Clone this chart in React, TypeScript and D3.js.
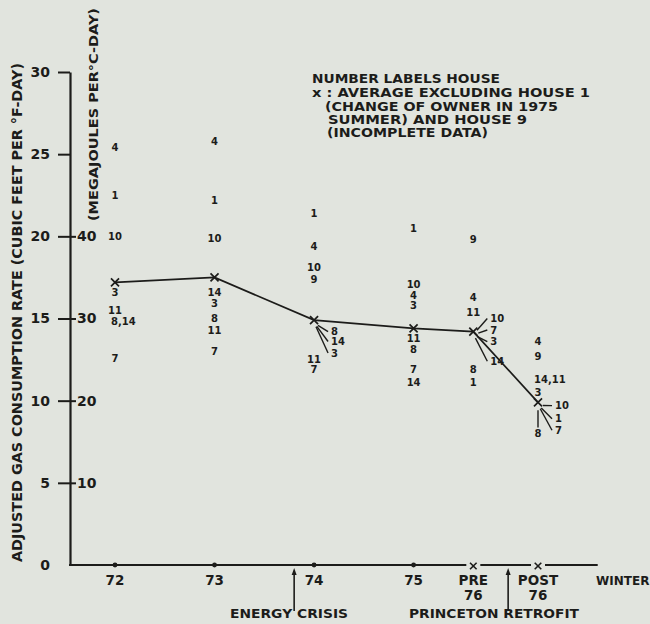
import React, { useEffect, useRef } from "react";
import * as d3 from "d3";

const W = 650;
const H = 624;
const FONT = "'DejaVu Sans', sans-serif";
const INK = "#1c1c1a";
const PAPER = "#e1e4de";

// winters on the horizontal axis (in year units)
const seasonNames = ["72", "73", "74", "75", "PRE 76", "POST 76"];
const seasonYears = [72, 73, 74, 75, 75.6, 76.25];

// x : average excluding house 1 and house 9 (cubic feet per °F-day)
const averages = [17.2, 17.5, 14.9, 14.4, 14.2, 9.9];

// house number labels, [house, rate] for each winter
const houses72 = [["4", 25.4], ["1", 22.5], ["10", 20.0], ["3", 16.6], ["11", 15.5], ["8,14", 14.8], ["7", 12.6]];
const houses73 = [["4", 25.8], ["1", 22.2], ["10", 19.9], ["14", 16.6], ["3", 15.9], ["8", 15.0], ["11", 14.3], ["7", 13.0]];
const houses74 = [["1", 21.4], ["4", 19.4], ["10", 18.1], ["9", 17.4], ["11", 12.5], ["7", 11.9]];
const houses75 = [["1", 20.5], ["10", 17.1], ["4", 16.4], ["3", 15.8], ["11", 13.8], ["8", 13.1], ["7", 11.9], ["14", 11.1]];
const housesPre76 = [["9", 19.8], ["4", 16.3], ["11", 15.4], ["8", 11.9], ["1", 11.1]];
const housesPost76 = [["4", 13.6], ["9", 12.7], ["14,11", 11.3], ["3", 10.5]];
const housesBySeason = [houses72, houses73, houses74, houses75, housesPre76, housesPost76];

// labels moved aside with a leader line: [season index, house, rate]
const leaderLabels = [
  [2, "8", 14.2], [2, "14", 13.6], [2, "3", 12.9],
  [4, "10", 15.0], [4, "7", 14.3], [4, "3", 13.6], [4, "14", 12.4],
  [5, "10", 9.7], [5, "1", 8.9], [5, "7", 8.2], [5, "8", 8.0],
];

const cfTicks = [0, 5, 10, 15, 20, 25, 30];
const mjTicks = [10, 20, 30, 40];

const legendLines = [
  "NUMBER LABELS HOUSE",
  "x : AVERAGE EXCLUDING HOUSE 1",
  "(CHANGE OF OWNER IN 1975",
  "SUMMER) AND HOUSE 9",
  "(INCOMPLETE DATA)",
];

const events = [
  { year: 73.8, label: "ENERGY CRISIS" },
  { year: 75.95, label: "PRINCETON RETROFIT" },
];

function drawChart(el: SVGSVGElement) {
  const svg = d3.select(el);
  svg.selectAll("*").remove();

  svg.append("rect").attr("width", W).attr("height", H).attr("fill", PAPER);

  const x = d3.scaleLinear().domain([72, 76.25]).range([115, 538]);
  const y = d3.scaleLinear().domain([0, 30]).range([565, 72]);
  const yMJ = d3.scaleLinear().domain([0, 60]).range([565, 72]);
  const axisX = 70;
  const axisEnd = x(76.85);

  const text = (g: any) =>
    g.attr("font-family", FONT).attr("font-weight", "bold").attr("fill", INK);

  // left axis, cubic feet
  const gL = svg
    .append("g")
    .attr("transform", `translate(${axisX},0)`)
    .call(d3.axisLeft(y).tickValues(cfTicks).tickSize(12).tickSizeOuter(0).tickPadding(8));
  gL.select(".domain").attr("stroke", INK).attr("stroke-width", 2.2);
  gL.selectAll(".tick line").attr("stroke", INK).attr("stroke-width", 2)
    .filter((d: any) => d === 0).remove();
  gL.selectAll(".tick text").call(text).attr("font-size", 14);

  // inner scale, megajoules
  const gR = svg
    .append("g")
    .attr("transform", `translate(${axisX},0)`)
    .call(d3.axisRight(yMJ).tickValues(mjTicks).tickSize(6).tickPadding(1));
  gR.select(".domain").remove();
  gR.selectAll(".tick line").attr("stroke", INK).attr("stroke-width", 2);
  gR.selectAll(".tick text").call(text).attr("font-size", 14);

  // axis titles
  svg.append("text")
    .attr("transform", `translate(17,${(63 + 562) / 2}) rotate(-90)`)
    .attr("text-anchor", "middle").attr("dy", "0.36em")
    .attr("font-size", 13.5).attr("textLength", 499).attr("lengthAdjust", "spacingAndGlyphs")
    .call(text)
    .text("ADJUSTED GAS CONSUMPTION RATE (CUBIC FEET PER °F-DAY)");
  svg.append("text")
    .attr("transform", `translate(93,${(8 + 221) / 2}) rotate(-90)`)
    .attr("text-anchor", "middle").attr("dy", "0.36em")
    .attr("font-size", 13).attr("textLength", 213).attr("lengthAdjust", "spacingAndGlyphs")
    .call(text)
    .text("(MEGAJOULES PER°C-DAY)");

  // horizontal axis, broken around the PRE / POST marks
  const y0 = y(0);
  const gaps = [x(75.6), x(76.25)];
  const segs = [[axisX - 1, gaps[0] - 7], [gaps[0] + 7, gaps[1] - 7], [gaps[1] + 7, axisEnd]];
  segs.forEach(([a, b]) =>
    svg.append("line").attr("x1", a).attr("x2", b).attr("y1", y0).attr("y2", y0)
      .attr("stroke", INK).attr("stroke-width", 2.2));

  seasonYears.slice(0, 4).forEach((yr) =>
    svg.append("circle").attr("cx", x(yr)).attr("cy", y0).attr("r", 2.4).attr("fill", INK));
  gaps.forEach((gx) =>
    svg.append("path").attr("d", d3.symbol(d3.symbolX, 30)())
      .attr("transform", `translate(${gx},${y0 + 1})`)
      .attr("fill", "none").attr("stroke", INK).attr("stroke-width", 1.6));

  seasonNames.forEach((name, i) => {
    const parts = name.split(" ");
    parts.forEach((p, j) =>
      svg.append("text").attr("x", x(seasonYears[i])).attr("y", 585 + j * 15)
        .attr("text-anchor", "middle").attr("font-size", 13.5).call(text).text(p));
  });
  svg.append("text").attr("x", 596).attr("y", 585).attr("font-size", 12)
    .call(text).text("WINTER");

  // event arrows
  events.forEach((ev, i) => {
    const ex = x(ev.year);
    svg.append("line").attr("x1", ex).attr("x2", ex).attr("y1", 611).attr("y2", 571)
      .attr("stroke", INK).attr("stroke-width", 1.6);
    svg.append("path").attr("d", `M${ex},568L${ex - 2.5},575L${ex + 2.5},575Z`).attr("fill", INK);
    const cx = i === 0 ? 289 : 494;
    svg.append("text").attr("x", cx).attr("y", 618).attr("text-anchor", "middle")
      .attr("font-size", 13).attr("textLength", i === 0 ? 118 : 170)
      .attr("lengthAdjust", "spacingAndGlyphs").call(text).text(ev.label);
  });

  // house labels
  housesBySeason.forEach((list, i) => {
    const sx = x(seasonYears[i]);
    list.forEach(([house, v]) => {
      const multi = (house as string).includes(",");
      svg.append("text")
        .attr("x", multi ? sx - 4 : sx).attr("y", y(v as number)).attr("dy", "0.36em")
        .attr("text-anchor", multi ? "start" : "middle")
        .attr("font-size", 10).call(text).text(house as string);
    });
  });

  // leader labels
  leaderLabels.forEach(([si, house, v]) => {
    const sx = x(seasonYears[si as number]);
    const sy = y(averages[si as number]);
    const ly = y(v as number);
    if (house === "8" && si === 5) {
      svg.append("line").attr("x1", sx).attr("x2", sx).attr("y1", sy + 8).attr("y2", ly - 6)
        .attr("stroke", INK).attr("stroke-width", 1.4);
      svg.append("text").attr("x", sx).attr("y", ly).attr("dy", "0.36em").attr("text-anchor", "middle")
        .attr("font-size", 10).call(text).text(house as string);
      return;
    }
    const lx = sx + 17;
    const dx = lx - 3 - sx;
    const dy = ly - sy;
    const len = Math.hypot(dx, dy);
    svg.append("line")
      .attr("x1", sx + (dx / len) * 5).attr("y1", sy + (dy / len) * 5 + 2)
      .attr("x2", lx - 3).attr("y2", ly)
      .attr("stroke", INK).attr("stroke-width", 1.4);
    svg.append("text").attr("x", lx).attr("y", ly).attr("dy", "0.36em")
      .attr("font-size", 10).call(text).text(house as string);
  });

  // average line with x marks
  const pts = seasonYears.map((yr, i) => [x(yr), y(averages[i])] as [number, number]);
  svg.append("path").attr("d", d3.line()(pts)).attr("fill", "none")
    .attr("stroke", INK).attr("stroke-width", 1.7);
  pts.forEach(([px, py]) =>
    svg.append("path").attr("d", d3.symbol(d3.symbolX, 44)())
      .attr("transform", `translate(${px},${py})`)
      .attr("fill", "none").attr("stroke", INK).attr("stroke-width", 1.7));

  // legend
  const legendLayout = [[312, 83, 188], [312, 97, 278], [325, 111, 233], [328, 124, 199], [327, 137, 161]];
  legendLines.forEach((line, i) => {
    const [lx, ly, lw] = legendLayout[i];
    svg.append("text").attr("x", lx).attr("y", ly).attr("font-size", 12)
      .attr("textLength", lw).attr("lengthAdjust", "spacingAndGlyphs").call(text).text(line);
  });
}

export default function App() {
  const ref = useRef<SVGSVGElement>(null);
  useEffect(() => {
    if (ref.current) drawChart(ref.current);
  }, []);
  return (
    <div style={{ position: "absolute", left: 0, top: 0 }}>
      <svg ref={ref} width={W} height={H} style={{ display: "block" }} />
    </div>
  );
}
